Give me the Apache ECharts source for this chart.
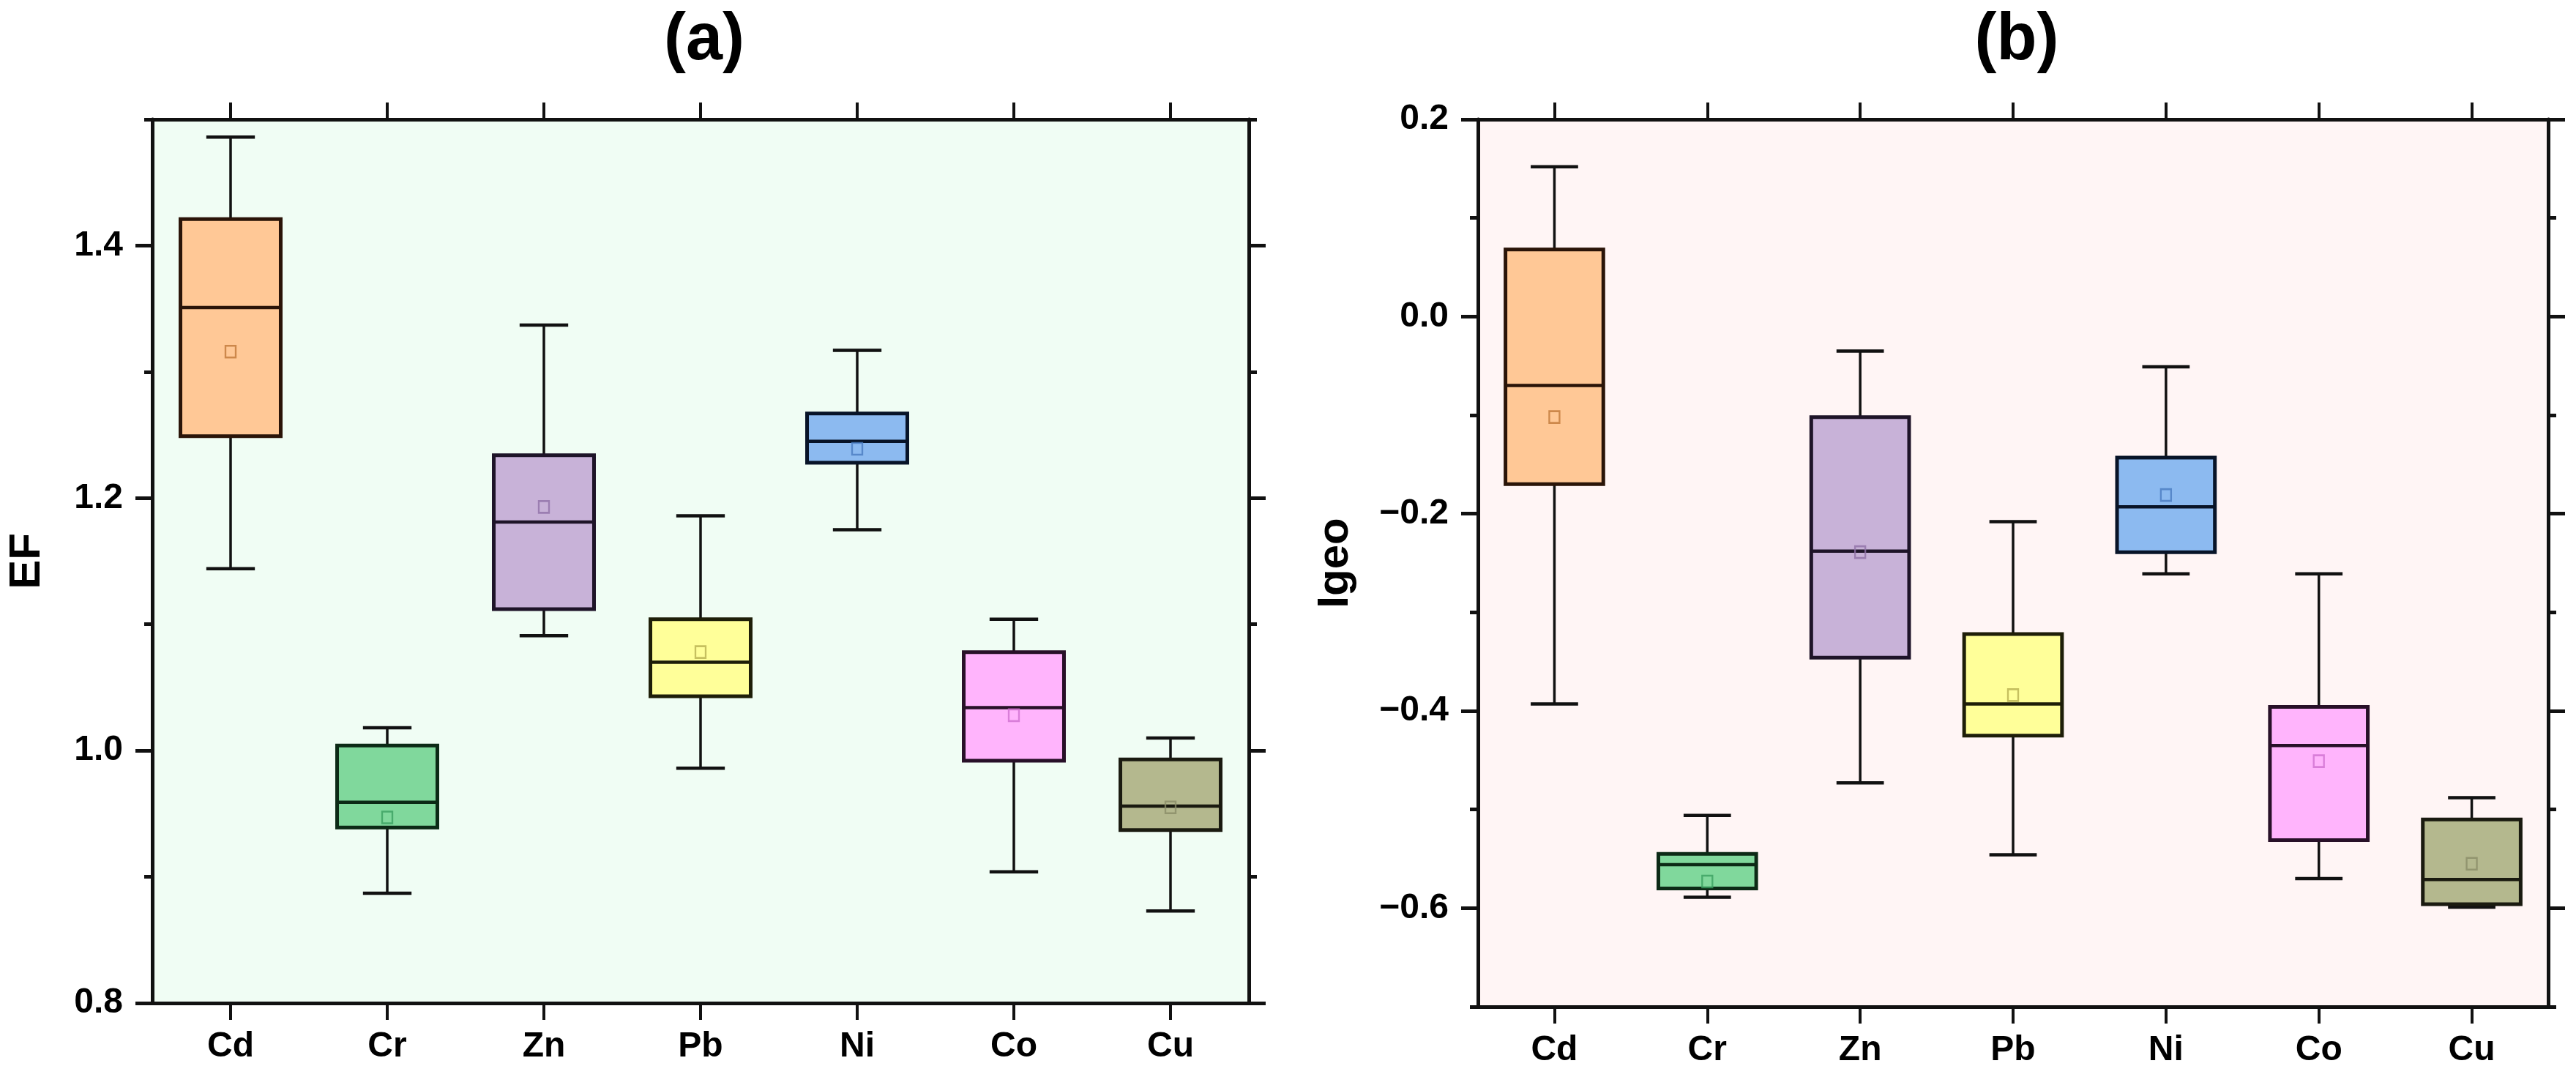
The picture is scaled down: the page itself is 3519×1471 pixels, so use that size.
<!DOCTYPE html>
<html>
<head>
<meta charset="utf-8">
<script src="https://cdn.jsdelivr.net/npm/echarts@6/dist/echarts.min.js"></script>
<style>
html,body{margin:0;padding:0;background:#fff;}
#chart{width:3519px;height:1471px;}
</style>
</head>
<body>
<div id="chart"></div>
<script>
// ---------- data ----------
const categories = ['Cd', 'Cr', 'Zn', 'Pb', 'Ni', 'Co', 'Cu'];

// (a) EF
const efMin    = [1.144, 0.887, 1.091, 0.986, 1.175, 0.904, 0.873];
const efQ1     = [1.249, 0.939, 1.112, 1.043, 1.228, 0.992, 0.937];
const efMedian = [1.351, 0.959, 1.181, 1.070, 1.245, 1.034, 0.956];
const efQ3     = [1.421, 1.004, 1.234, 1.104, 1.267, 1.078, 0.993];
const efMax    = [1.486, 1.018, 1.337, 1.186, 1.317, 1.104, 1.010];
const efMean   = [1.316, 0.947, 1.193, 1.078, 1.239, 1.028, 0.955];

// (b) Igeo
const igMin    = [-0.393, -0.589, -0.473, -0.546, -0.261, -0.570, -0.599];
const igQ1     = [-0.170, -0.580, -0.346, -0.425, -0.239, -0.531, -0.596];
const igMedian = [-0.070, -0.556, -0.238, -0.393, -0.193, -0.435, -0.571];
const igQ3     = [ 0.068, -0.545, -0.102, -0.322, -0.143, -0.396, -0.510];
const igMax    = [ 0.152, -0.506, -0.035, -0.208, -0.051, -0.261, -0.488];
const igMean   = [-0.102, -0.573, -0.239, -0.384, -0.181, -0.451, -0.555];

// tick values
const efMajorTicks = [0.8, 1.0, 1.2, 1.4];
const efMinorTicks = [0.9, 1.1, 1.3, 1.5];
const igMajorTicks = [-0.6, -0.4, -0.2, 0.0, 0.2];
const igMinorTicks = [-0.7, -0.5, -0.3, -0.1, 0.1];

// ---------- styles ----------
const fillColors = ['#FFC896', '#80D89C', '#C8B2D8', '#FFFF99', '#8CBAF0', '#FFB4FC', '#B4B88E'];
const edgeColors = ['#2a1408', '#0c2a16', '#1e1428', '#1e1e08', '#081428', '#281028', '#1a1a10'];
const meanColors = ['#C07838', '#3AA060', '#9070A8', '#B8B050', '#4A7CC0', '#D070D0', '#8A8C68'];
const FONT = '"Liberation Sans", Arial, sans-serif';

function boxRows(mn, q1, md, q3, mx) {
  return categories.map((c, i) => [i, mn[i], q1[i], md[i], q3[i], mx[i]]);
}

function renderBox(params, api) {
  const i = params.dataIndex;
  const x = api.value(0);
  const pLo = api.coord([x, api.value(1)]);
  const pQ1 = api.coord([x, api.value(2)]);
  const pMd = api.coord([x, api.value(3)]);
  const pQ3 = api.coord([x, api.value(4)]);
  const pHi = api.coord([x, api.value(5)]);
  const band = api.size([1, 0])[0];
  const bw = band * 0.64;
  const cw = band * 0.31;
  const cx = pMd[0];
  const edge = edgeColors[i];
  const children = [
    { type: 'line', shape: { x1: cx, y1: pHi[1], x2: cx, y2: pQ3[1] }, style: { stroke: '#111', lineWidth: 3.5 } },
    { type: 'line', shape: { x1: cx, y1: pQ1[1], x2: cx, y2: pLo[1] }, style: { stroke: '#111', lineWidth: 3.5 } },
    { type: 'line', shape: { x1: cx - cw / 2, y1: pHi[1], x2: cx + cw / 2, y2: pHi[1] }, style: { stroke: '#111', lineWidth: 4.5 } },
    { type: 'line', shape: { x1: cx - cw / 2, y1: pLo[1], x2: cx + cw / 2, y2: pLo[1] }, style: { stroke: '#111', lineWidth: 4.5 } },
    { type: 'rect', shape: { x: cx - bw / 2, y: pQ3[1], width: bw, height: pQ1[1] - pQ3[1] },
      style: { fill: fillColors[i], stroke: edge, lineWidth: 5 } },
    { type: 'line', shape: { x1: cx - bw / 2, y1: pMd[1], x2: cx + bw / 2, y2: pMd[1] }, style: { stroke: edge, lineWidth: 4.5 } }
  ];
  return { type: 'group', children: children };
}

function meanData(arr) {
  return arr.map((v, i) => ({ value: [i, v], itemStyle: { borderColor: meanColors[i] } }));
}

const labelStyle = { fontFamily: FONT, fontWeight: 'bold', fontSize: 48, color: '#000' };

function fmtNum(v) {
  let s = (Math.abs(v) < 1e-9 ? 0 : v).toFixed(1);
  return s.replace('-', '\u2212');
}

const AX = '#111';
const AW = 5;

function yAxes(gridIndex, min, max, majors, minors, name, nameGap) {
  const base = { type: 'value', gridIndex: gridIndex, min: min, max: max, interval: 0.1, splitLine: { show: false }, scale: true };
  return [
    Object.assign({}, base, {
      position: 'left', name: name, nameLocation: 'middle', nameGap: nameGap, nameRotate: 90,
      nameTextStyle: { fontFamily: FONT, fontWeight: 'bold', fontSize: 60, color: '#000' },
      axisLine: { show: true, onZero: false, lineStyle: { color: AX, width: AW } },
      axisTick: { show: true, inside: false, length: 23, customValues: majors, lineStyle: { color: AX, width: AW } },
      axisLabel: Object.assign({ margin: 40, customValues: majors, formatter: fmtNum }, labelStyle)
    }),
    Object.assign({}, base, {
      position: 'left',
      axisLine: { show: false, onZero: false },
      axisTick: { show: true, inside: false, length: 11, customValues: minors, lineStyle: { color: AX, width: AW } },
      axisLabel: { show: false }
    }),
    Object.assign({}, base, {
      position: 'right',
      axisLine: { show: true, onZero: false, lineStyle: { color: AX, width: AW } },
      axisTick: { show: true, inside: false, length: 23, customValues: majors, lineStyle: { color: AX, width: AW } },
      axisLabel: { show: false }
    }),
    Object.assign({}, base, {
      position: 'right',
      axisLine: { show: false, onZero: false },
      axisTick: { show: true, inside: false, length: 11, customValues: minors, lineStyle: { color: AX, width: AW } },
      axisLabel: { show: false }
    })
  ];
}

function xAxes(gridIndex) {
  return [
    {
      type: 'category', gridIndex: gridIndex, data: categories, position: 'bottom', boundaryGap: true,
      axisLine: { show: true, onZero: false, lineStyle: { color: AX, width: AW } },
      axisTick: { show: true, alignWithLabel: true, inside: false, length: 23, lineStyle: { color: AX, width: 4 } },
      axisLabel: Object.assign({ margin: 36 }, labelStyle),
      splitLine: { show: false }
    },
    {
      type: 'category', gridIndex: gridIndex, data: categories, position: 'top', boundaryGap: true,
      axisLine: { show: true, onZero: false, lineStyle: { color: AX, width: AW } },
      axisTick: { show: true, alignWithLabel: true, inside: false, length: 23, lineStyle: { color: AX, width: 4 } },
      axisLabel: { show: false },
      splitLine: { show: false }
    }
  ];
}

const chart = echarts.init(document.getElementById('chart'), null, { renderer: 'canvas' });

const option = {
  backgroundColor: '#ffffff',
  animation: false,
  title: [
    { text: '(a)', left: 957, top: 6, textAlign: 'center',
      textStyle: { fontFamily: FONT, fontWeight: 'bold', fontSize: 90, color: '#000' } },
    { text: '(b)', left: 2750, top: 6, textAlign: 'center',
      textStyle: { fontFamily: FONT, fontWeight: 'bold', fontSize: 90, color: '#000' } }
  ],
  grid: [
    { left: 208, right: 1813, top: 163, bottom: 101, show: true, backgroundColor: '#F0FDF4', borderWidth: 0 },
    { left: 2019, right: 38, top: 163, bottom: 96, show: true, backgroundColor: '#FFF5F5', borderWidth: 0 }
  ],
  xAxis: [].concat(xAxes(0), xAxes(1)),
  yAxis: [].concat(
    yAxes(0, 0.8, 1.5, efMajorTicks, efMinorTicks, 'EF', 141),
    yAxes(1, -0.7, 0.2, igMajorTicks, igMinorTicks, 'Igeo', 165)
  ),
  series: [
    {
      type: 'custom', name: 'EF', xAxisIndex: 0, yAxisIndex: 0,
      renderItem: renderBox,
      encode: { x: 0, y: [1, 2, 3, 4, 5] },
      data: boxRows(efMin, efQ1, efMedian, efQ3, efMax),
      z: 2
    },
    {
      type: 'scatter', name: 'EF mean', xAxisIndex: 0, yAxisIndex: 0,
      symbol: 'rect', symbolSize: [14, 16],
      itemStyle: { color: 'rgba(0,0,0,0)', borderWidth: 2.5 },
      data: meanData(efMean), z: 3
    },
    {
      type: 'custom', name: 'Igeo', xAxisIndex: 2, yAxisIndex: 4,
      renderItem: renderBox,
      encode: { x: 0, y: [1, 2, 3, 4, 5] },
      data: boxRows(igMin, igQ1, igMedian, igQ3, igMax),
      z: 2
    },
    {
      type: 'scatter', name: 'Igeo mean', xAxisIndex: 2, yAxisIndex: 4,
      symbol: 'rect', symbolSize: [14, 16],
      itemStyle: { color: 'rgba(0,0,0,0)', borderWidth: 2.5 },
      data: meanData(igMean), z: 3
    }
  ]
};

chart.setOption(option);
</script>
</body>
</html>
